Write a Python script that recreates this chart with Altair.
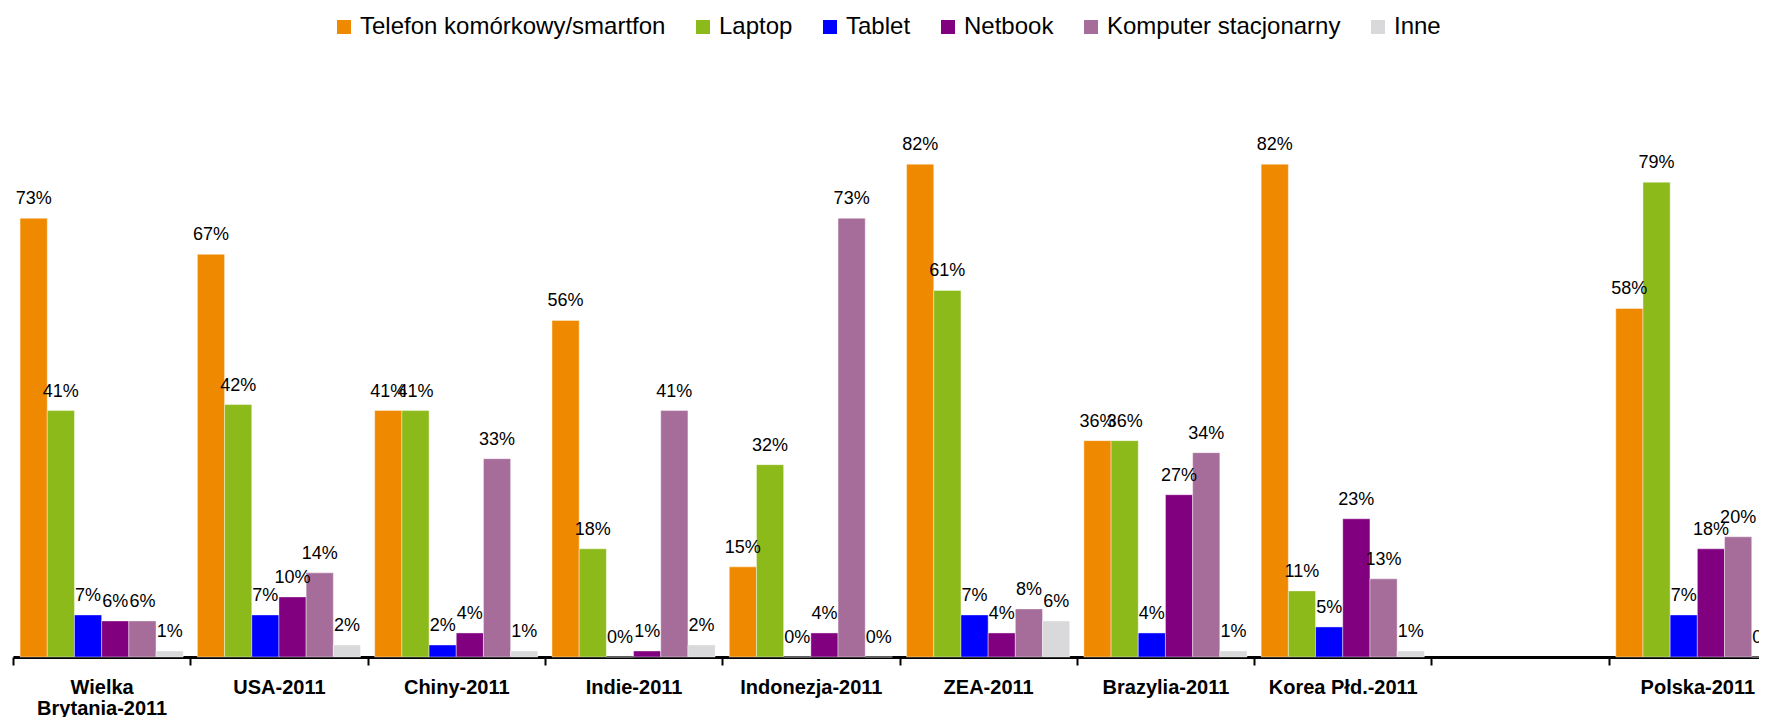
import altair as alt
import pandas as pd

categories = ["Wielka|Brytania-2011", "USA-2011", "Chiny-2011", "Indie-2011",
              "Indonezja-2011", "ZEA-2011", "Brazylia-2011", "Korea Płd.-2011",
              " ", "Polska-2011"]
series = ["Telefon komórkowy/smartfon", "Laptop", "Tablet", "Netbook",
          "Komputer stacjonarny", "Inne"]
colors = ["#EF8A00", "#8DBA1B", "#0000FF", "#800080", "#A66D9B", "#D9D9DB"]

telefon = [73, 67, 41, 56, 15, 82, 36, 82, None, 58]
laptop = [41, 42, 41, 18, 32, 61, 36, 11, None, 79]
tablet = [7, 7, 2, 0, 0, 7, 4, 5, None, 7]
netbook = [6, 10, 4, 1, 4, 4, 27, 23, None, 18]
komputer = [6, 14, 33, 41, 73, 8, 34, 13, None, 20]
inne = [1, 2, 1, 2, 0, 6, 1, 1, None, 0]

rows = []
for s, vals in zip(series, [telefon, laptop, tablet, netbook, komputer, inne]):
    for c, v in zip(categories, vals):
        if v is None:
            continue
        rows.append({"kraj": c, "urzadzenie": s, "wartosc": v, "etykieta": f"{v}%"})
df = pd.DataFrame(rows)

x_enc = alt.X("kraj:N", sort=categories,
              scale=alt.Scale(domain=categories, range=[0, 1773], paddingInner=0, paddingOuter=0),
              axis=alt.Axis(title=None, labelAngle=0, labelFontSize=20, labelFontWeight="bold",
                            labelFont="Liberation Sans", labelColor="black",
                            labelExpr="split(datum.label, '|')", labelLineHeight=21,
                            labelPadding=12, labelOverlap=False, labelLimit=400,
                            tickBand="extent", tickSize=8, tickWidth=2, tickColor="black",
                            domainColor="black", domainWidth=3))
xoff = alt.XOffset("urzadzenie:N", sort=series,
                   scale=alt.Scale(domain=series, paddingInner=0, paddingOuter=0.26))
y_enc = alt.Y("wartosc:Q", scale=alt.Scale(domain=[0, 100]), axis=None)

bars = alt.Chart(df).mark_bar(stroke="white", strokeWidth=0.6, strokeOpacity=0.7).encode(
    x=x_enc, xOffset=xoff, y=y_enc,
    color=alt.Color("urzadzenie:N", sort=series,
                    scale=alt.Scale(domain=series, range=colors),
                    legend=alt.Legend(title=None, orient="none", direction="horizontal",
                                      legendX=319, legendY=-41, symbolType="square",
                                      symbolSize=196, symbolStrokeWidth=0,
                                      labelFontSize=24, labelFont="Liberation Sans",
                                      labelColor="black", labelOffset=4,
                                      columnPadding=25, labelLimit=500)),
)

texts = alt.Chart(df).mark_text(fontSize=18, font="Liberation Sans", color="black",
                                baseline="alphabetic", dy=-14).encode(
    x=x_enc, xOffset=xoff, y=y_enc, text="etykieta:N")

chart = alt.layer(bars, texts).properties(
    width=1746, height=601,
    autosize=alt.AutoSizeParams(type="none"),
    padding={"left": 5, "top": 48, "right": 0, "bottom": 60},
).configure_view(stroke=None)

chart.save("out.html", embed_options={"renderer": "svg", "actions": False})
